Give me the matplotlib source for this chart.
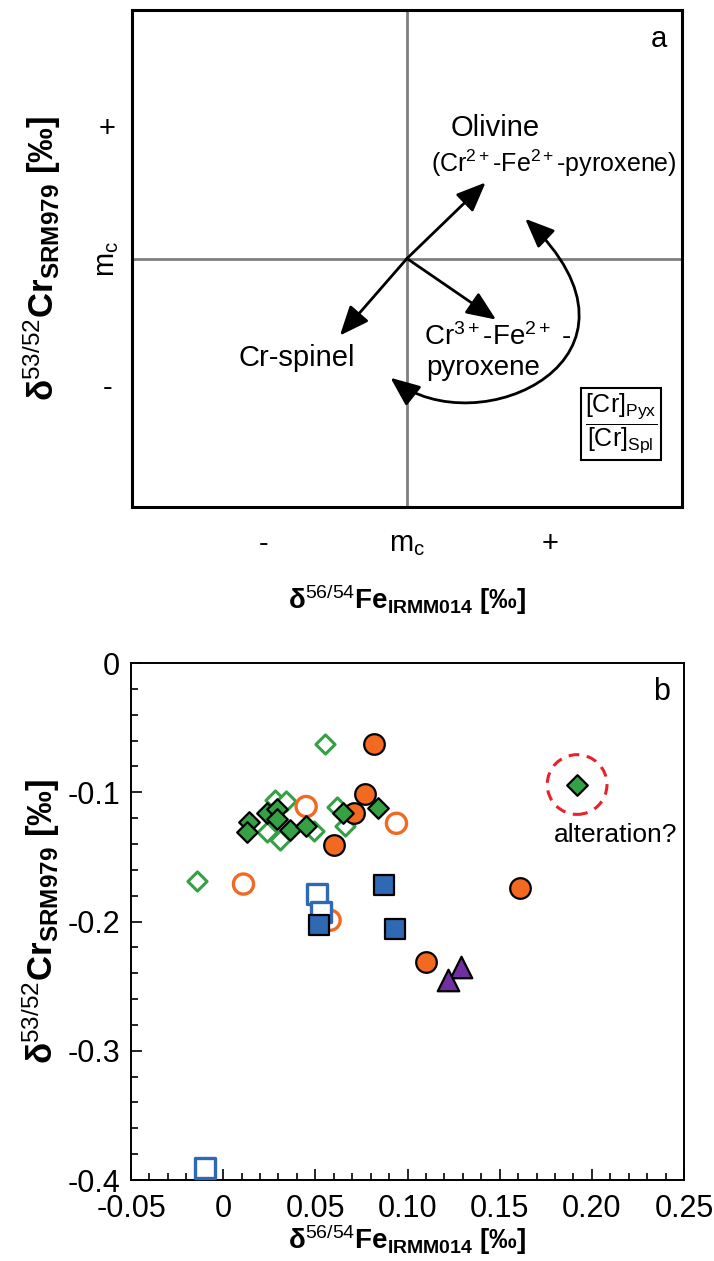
import numpy as np
import matplotlib
matplotlib.use("Agg")
import matplotlib.pyplot as plt
from matplotlib.path import Path
from matplotlib.patches import FancyArrowPatch
from matplotlib.ticker import MultipleLocator

plt.rcParams["font.family"] = ["Liberation Sans", "DejaVu Sans"]
plt.rcParams["mathtext.fontset"] = "custom"
plt.rcParams["mathtext.rm"] = "Liberation Sans"
plt.rcParams["mathtext.it"] = "Liberation Sans:italic"
plt.rcParams["mathtext.bf"] = "Liberation Sans:bold"

# =============================================================================
# DATA  (panel b)
# =============================================================================

orange_filled_x = [0.082, 0.077, 0.071, 0.060, 0.161, 0.110]
orange_filled_y = [-0.063, -0.101, -0.116, -0.141, -0.174, -0.231]

orange_open_x = [0.045, 0.094, 0.011, 0.058]
orange_open_y = [-0.111, -0.124, -0.171, -0.199]

green_open_x = [-0.014, 0.055, 0.028, 0.034, 0.024, 0.031, 0.049, 0.062, 0.066]
green_open_y = [-0.169, -0.063, -0.106, -0.107, -0.131, -0.137, -0.130, -0.111, -0.126]

green_filled_x = [0.014, 0.013, 0.024, 0.029, 0.029, 0.036, 0.045, 0.065, 0.084, 0.192]
green_filled_y = [-0.123, -0.131, -0.116, -0.113, -0.121, -0.129, -0.126, -0.116, -0.112, -0.094]

blue_open_x = [-0.010, 0.051, 0.053]
blue_open_y = [-0.391, -0.179, -0.193]

blue_filled_x = [0.052, 0.087, 0.093]
blue_filled_y = [-0.203, -0.172, -0.206]

purple_x = [0.129, 0.122]
purple_y = [-0.235, -0.245]

altered_x = [0.192]
altered_y = [-0.094]

xticks_b = [-0.05, 0, 0.05, 0.10, 0.15, 0.20, 0.25]
xticklabels_b = ["-0.05", "0", "0.05", "0.10", "0.15", "0.20", "0.25"]
yticks_b = [0, -0.1, -0.2, -0.3, -0.4]
yticklabels_b = ["0", "-0.1", "-0.2", "-0.3", "-0.4"]

# panel a: schematic axes
ticks_a = [0.24, 0.5, 0.76]
xticklabels_a = ["-", r"m$_\mathrm{c}$", "+"]
yticklabels_a = ["-", r"m$_\mathrm{c}$", "+"]

ORANGE = "#F26A22"
GREEN = "#35A046"
BLUE = "#2F68B3"
PURPLE = "#7030A0"
RED = "#E8212B"

XLABEL = "δ$^{\\mathrm{56/54}}$Fe$_{\\mathbf{IRMM014}}$ [‰]"
YLABEL = "δ$^{\\mathrm{53/52}}$Cr$_{\\mathbf{SRM979}}$ [‰]"

# =============================================================================
# FIGURE
# =============================================================================

fig = plt.figure(figsize=(7.14, 12.61), dpi=100)

# ---- panel a ---------------------------------------------------------------
ax = fig.add_axes([0.185, 0.598, 0.770, 0.394])
ax.set_xlim(0, 1)
ax.set_ylim(0, 1)
for s in ax.spines.values():
    s.set_linewidth(2.2)
ax.axvline(0.5, color="#7f7f7f", lw=2, zorder=1)
ax.axhline(0.5, color="#7f7f7f", lw=2, zorder=1)

ax.set_xticks(ticks_a)
ax.set_xticklabels(xticklabels_a, fontsize=21)
ax.set_yticks(ticks_a)
ax.set_yticklabels(yticklabels_a, fontsize=21)
ax.tick_params(length=0)
ax.tick_params(axis="x", pad=27)
ax.tick_params(axis="y", pad=18)
for lbl in ax.get_xticklabels():
    lbl.set_va("center")
for lbl in ax.get_yticklabels():
    lbl.set_ha("center")
    lbl.set_va("center")
ax.get_yticklabels()[1].set_rotation(90)

ax.set_xlabel(XLABEL, fontsize=20, fontweight="bold")
ax.set_ylabel(YLABEL, fontsize=25, fontweight="bold")
ax.xaxis.set_label_coords(0.5, -0.187)
ax.yaxis.set_label_coords(-0.165, 0.5)
ax.xaxis.label.set_va("center")
ax.yaxis.label.set_va("center")

ax.text(0.959, 0.942, "a", fontsize=21, ha="center", va="center")
ax.text(0.661, 0.762, "Olivine", fontsize=21, ha="center", va="center")
ax.text(0.768, 0.692, r"(Cr$^{2+}$-Fe$^{2+}$-pyroxene)", fontsize=18,
        ha="center", va="center")
ax.text(0.30, 0.30, "Cr-spinel", fontsize=21, ha="center", va="center")
ax.text(0.531, 0.342, r"Cr$^{3+}$-Fe$^{2+}$ -", fontsize=20, ha="left", va="center")
ax.text(0.535, 0.279, "pyroxene", fontsize=20, ha="left", va="center")
ax.text(0.89, 0.167, r"$\dfrac{\mathrm{[Cr]_{Pyx}}}{\mathrm{[Cr]_{Spl}}}$",
        fontsize=18, ha="center", va="center",
        bbox=dict(boxstyle="square,pad=0.15", fc="white", ec="black", lw=1.5))

arrow_kw = dict(arrowstyle="-|>,head_length=1.0,head_width=0.42",
                color="black", lw=2, mutation_scale=18,
                shrinkA=0, shrinkB=0)
for tip in [(0.643, 0.653), (0.378, 0.345), (0.662, 0.377)]:
    ax.annotate("", xy=tip, xytext=(0.5, 0.5), xycoords="axes fraction",
                arrowprops=arrow_kw)

curve = Path([(0.47, 0.26), (0.63, 0.12), (0.98, 0.30), (0.715, 0.58)],
             [Path.MOVETO, Path.CURVE4, Path.CURVE4, Path.CURVE4])
ax.add_patch(FancyArrowPatch(path=curve, transform=ax.transAxes,
                             arrowstyle="<|-|>,head_length=1.0,head_width=0.42",
                             mutation_scale=18, lw=2, color="black"))

# ---- panel b ---------------------------------------------------------------
bx = fig.add_axes([0.1835, 0.0642, 0.7745, 0.410])
bx.set_xlim(-0.05, 0.25)
bx.set_ylim(-0.4, 0)
for s in bx.spines.values():
    s.set_linewidth(1.4)
bx.set_xticks(xticks_b)
bx.set_xticklabels(xticklabels_b, fontsize=22)
bx.set_yticks(yticks_b)
bx.set_yticklabels(yticklabels_b, fontsize=22)
bx.xaxis.set_minor_locator(MultipleLocator(0.01))
bx.yaxis.set_minor_locator(MultipleLocator(0.02))
bx.tick_params(which="both", direction="in", width=1.2)
bx.tick_params(which="major", length=8)
bx.tick_params(which="minor", length=5)
bx.tick_params(axis="x", pad=10)
bx.tick_params(axis="y", pad=8)

bx.set_xlabel(XLABEL, fontsize=20, fontweight="bold")
bx.set_ylabel(YLABEL, fontsize=25, fontweight="bold")
bx.xaxis.set_label_coords(0.5, -0.116)
bx.yaxis.set_label_coords(-0.163, 0.5)
bx.xaxis.label.set_va("center")
bx.yaxis.label.set_va("center")

bx.scatter(green_open_x, green_open_y, marker="D", s=95, facecolors="white",
           edgecolors=GREEN, linewidths=2.2, zorder=3)
bx.scatter(orange_open_x, orange_open_y, marker="o", s=210, facecolors="none",
           edgecolors=ORANGE, linewidths=2.4, zorder=3)
bx.scatter(orange_filled_x, orange_filled_y, marker="o", s=220, facecolors=ORANGE,
           edgecolors="black", linewidths=1.6, zorder=4)
bx.scatter(green_filled_x, green_filled_y, marker="D", s=110, facecolors=GREEN,
           edgecolors="black", linewidths=1.6, zorder=5)
bx.scatter(blue_open_x, blue_open_y, marker="s", s=200, facecolors="white",
           edgecolors=BLUE, linewidths=2.4, zorder=6, clip_on=False)
bx.scatter(blue_filled_x, blue_filled_y, marker="s", s=210, facecolors=BLUE,
           edgecolors="black", linewidths=1.6, zorder=7)
bx.scatter(purple_x, purple_y, marker="^", s=240, facecolors=PURPLE,
           edgecolors="black", linewidths=1.6, zorder=7)
bx.scatter(altered_x, altered_y, marker="o", s=1850, facecolors="none",
           edgecolors=RED, linewidths=2.2, linestyle=(0, (3.5, 2.5)), zorder=2)

bx.text(0.213, -0.133, "alteration?", fontsize=19, ha="center", va="center")
bx.text(0.959, 0.944, "b", fontsize=22, ha="center", va="center",
        transform=bx.transAxes)

fig.savefig("out.png", dpi=100)
